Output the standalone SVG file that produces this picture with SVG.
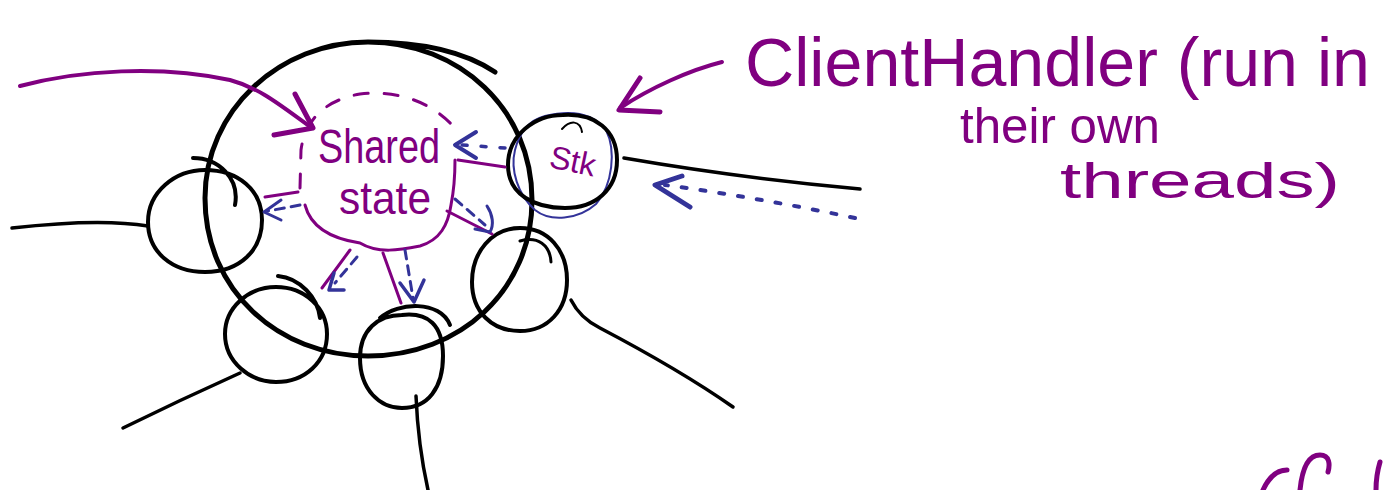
<svg xmlns="http://www.w3.org/2000/svg" width="1385" height="490" viewBox="0 0 1385 490">
<style>
.ink{fill:none;stroke:#000;stroke-linecap:round;stroke-linejoin:round}
.pur{fill:none;stroke:#800080;stroke-linecap:round;stroke-linejoin:round}
.blu{fill:none;stroke:#333399;stroke-linecap:round;stroke-linejoin:round}
.dash{stroke-dasharray:9 7}
.dot{stroke-dasharray:5 14}
.sparse{stroke-dasharray:14 16}
.hand{font-family:"Liberation Sans","DejaVu Sans",sans-serif;fill:#800080}
</style>
<rect width="1385" height="490" fill="#fff"/>
<g id="process">
<path class="ink" stroke-width="5" d="M 368,42 C 460,42 532,110 532,200 C 532,290 460,356 368,356 C 278,356 205,290 205,198 C 205,110 280,42 368,42 C 420,42 465,52 495,72"/>
</g>
<g id="shared-state">
<path class="pur" stroke-width="3" d="M 305,205 C 312,232 340,240 360,243 C 378,254 400,250 420,246 C 440,240 448,225 451,205 C 454,190 455,175 455,160"/>
<path class="pur sparse" stroke-width="3" d="M 300,188 L 301,150 C 305,120 325,100 360,94 C 395,90 430,100 455,128"/>
<text class="hand" x="379" y="163" font-size="48" text-anchor="middle" textLength="122" lengthAdjust="spacingAndGlyphs">Shared</text>
<text class="hand" x="385" y="214" font-size="46" text-anchor="middle" textLength="92" lengthAdjust="spacingAndGlyphs">state</text>
</g>
<g id="client-stk">
<path class="blu" stroke-width="2" d="M 545,116 C 570,110 592,112 606,130 C 616,150 613,185 596,204 C 578,220 550,222 535,210 C 518,195 510,170 515,150 C 520,130 530,120 545,116"/>
<path class="ink" stroke-width="4" d="M 563,115 C 535,115 508,135 508,165 C 508,195 535,208 565,208 C 595,208 617,190 617,160 C 617,130 595,113 563,115"/>
<path class="ink" stroke-width="2" d="M 562,129 C 570,120 580,120 582,132"/>
<text class="hand" x="573" y="172" font-size="32" text-anchor="middle" transform="rotate(12 573 160)">Stk</text>
</g>
<g id="client-left">
<path class="ink" stroke-width="4" d="M 235,205 C 240,178 218,158 193,158 M 205,170 C 175,170 148,192 148,222 C 148,252 172,272 205,272 C 240,272 262,250 262,220 C 262,190 238,170 205,170"/>
</g>
<g id="client-bottom-left">
<path class="ink" stroke-width="4" d="M 320,318 C 318,298 300,278 278,276 M 276,287 C 248,287 225,308 225,334 C 225,362 250,382 276,382 C 305,382 327,362 327,334 C 327,308 305,287 276,287"/>
</g>
<g id="client-bottom">
<path class="ink" stroke-width="4" d="M 380,318 C 398,302 440,300 450,325 M 402,315 C 378,315 360,330 360,358 C 360,390 380,408 402,408 C 428,408 443,388 443,356 C 443,325 428,312 402,315"/>
</g>
<g id="client-right">
<path class="ink" stroke-width="3" d="M 520,241 C 538,236 550,245 551,262"/>
<path class="ink" stroke-width="4" d="M 520,228 C 492,228 472,252 472,282 C 472,312 492,331 520,331 C 548,331 567,310 567,280 C 567,250 548,228 520,228"/>
</g>
<g id="connectors">
<path class="ink" stroke-width="3.5" d="M 12,228 Q 100,218 148,226"/>
<path class="ink" stroke-width="3.5" d="M 240,373 Q 180,400 123,428"/>
<path class="ink" stroke-width="3.5" d="M 416,396 Q 418,445 428,490"/>
<path class="ink" stroke-width="3.5" d="M 571,300 Q 580,318 600,328 Q 680,370 733,407"/>
<path class="ink" stroke-width="3.5" d="M 624,158 Q 740,178 860,189"/>
<path class="blu dot" stroke-width="4" d="M 855,218 Q 760,198 665,185"/>
<path class="blu" stroke-width="5" d="M 682,176 L 655,185 L 690,207"/>
<path class="pur" stroke-width="4" d="M 20,86 C 80,70 160,65 230,80 C 260,88 280,105 312,128"/>
<path class="pur" stroke-width="5" d="M 295,94 L 313,128 L 274,135"/>
<path class="pur" stroke-width="4" d="M 722,62 C 690,70 650,88 620,108"/>
<path class="pur" stroke-width="5" d="M 640,78 L 619,110 L 660,112"/>
<path class="blu dot" stroke-width="3.5" d="M 505,148 L 462,145"/>
<path class="blu" stroke-width="4" d="M 476,132 L 455,145 L 476,158"/>
<path class="pur" stroke-width="3" d="M 458,160 L 505,167"/>
<path class="pur" stroke-width="3" d="M 265,197 L 298,192"/>
<path class="blu dash" stroke-width="3" d="M 300,205 L 268,211"/>
<path class="blu" stroke-width="3" d="M 281,200 L 264,212 L 281,220"/>
<path class="pur" stroke-width="3" d="M 447,211 L 492,234"/>
<path class="blu dash" stroke-width="3" d="M 455,199 L 485,225"/>
<path class="blu" stroke-width="3" d="M 487,206 C 493,215 494,225 490,232 L 475,229"/>
<path class="pur" stroke-width="3" d="M 350,250 L 322,288"/>
<path class="blu dash" stroke-width="3" d="M 357,257 L 335,283"/>
<path class="blu" stroke-width="3.5" d="M 334,273 L 329,290 L 344,290"/>
<path class="pur" stroke-width="3" d="M 383,253 L 401,303"/>
<path class="blu dash" stroke-width="3" d="M 405,250 L 413,298"/>
<path class="blu" stroke-width="3.5" d="M 400,283 L 414,302 L 424,280"/>
</g>
<g id="label">
<text class="hand" x="745" y="86" font-size="68" textLength="625" lengthAdjust="spacingAndGlyphs">ClientHandler (run in</text>
<text class="hand" x="960" y="143" font-size="50" textLength="200" lengthAdjust="spacingAndGlyphs">their own</text>
<text class="hand" x="1060" y="198" font-size="50" textLength="280" lengthAdjust="spacingAndGlyphs">threads)</text>
</g>
<g id="cutoff-note">
<path class="pur" stroke-width="5" d="M 1263,490 C 1270,475 1278,470 1287,470"/>
<path class="pur" stroke-width="5" d="M 1300,490 C 1302,470 1308,455 1320,455 C 1330,455 1330,465 1328,472"/>
<path class="pur" stroke-width="5" d="M 1380,462 C 1377,472 1376,482 1376,490"/>
</g>
</svg>
